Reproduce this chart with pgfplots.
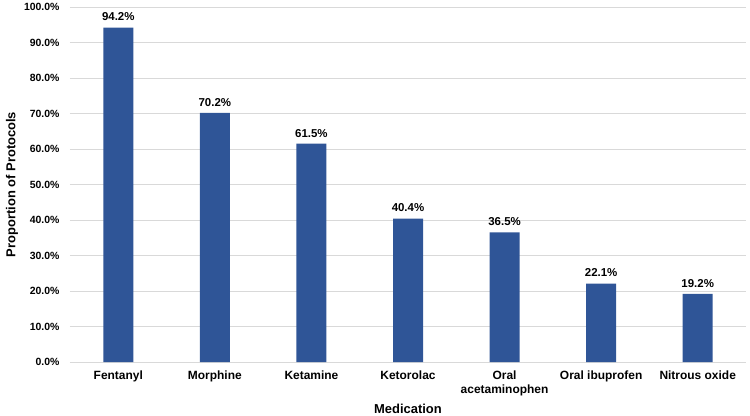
\documentclass[border=0pt]{standalone}
\usepackage{pgfplots}
\pgfplotsset{compat=1.18}
\usepackage{fontspec}
\setmainfont{Liberation Sans}
\definecolor{barblue}{RGB}{47,85,151}
\definecolor{gridgray}{RGB}{217,217,217}
\begin{document}
\begin{tikzpicture}[x=1bp,y=1bp]
\path[use as bounding box] (-70bp,-54bp) rectangle (680bp,362bp);
\begin{axis}[
  at={(0,0)}, anchor=south west,
  scale only axis, width=676bp, height=355bp,
  xmin=-0.5, xmax=6.5, ymin=0, ymax=100,
  axis line style={draw=none},
  ytick={0,10,...,100},
  ymajorgrids, grid style={gridgray, line width=0.8pt},
  major tick length=0pt,
  xtick=data,
  xticklabels={Fentanyl,Morphine,Ketamine,Ketorolac,{Oral\\acetaminophen},Oral ibuprofen,Nitrous oxide},
  xticklabel style={align=center, font=\bfseries\fontsize{12}{14}\selectfont, yshift=-5bp},
  yticklabel style={font=\bfseries\fontsize{10.5}{12}\selectfont, xshift=-7bp},
  /pgf/number format/assume math mode=true,
  yticklabel={\pgfmathprintnumber[fixed,fixed zerofill,precision=1]{\tick}\%},
  xlabel={Medication}, ylabel={Proportion of Protocols},
  every axis y label/.style={at={(axis description cs:0,0.5)}, xshift=-58bp, rotate=90, anchor=center, font=\bfseries\fontsize{13}{15}\selectfont},
  every axis x label/.style={at={(axis description cs:0.5,0)}, anchor=center, yshift=-47bp, font=\bfseries\fontsize{13}{15}\selectfont},
  ybar, bar width=30bp,
  nodes near coords={\pgfmathprintnumber[fixed,fixed zerofill,precision=1]{\pgfplotspointmeta}\%},
  nodes near coords style={font=\bfseries\fontsize{11.5}{13}\selectfont, yshift=3bp},
  clip=false,
]
\addplot[fill=barblue, draw=none] coordinates {(0,94.2) (1,70.2) (2,61.5) (3,40.4) (4,36.5) (5,22.1) (6,19.2)};
\end{axis}
\end{tikzpicture}
\end{document}
